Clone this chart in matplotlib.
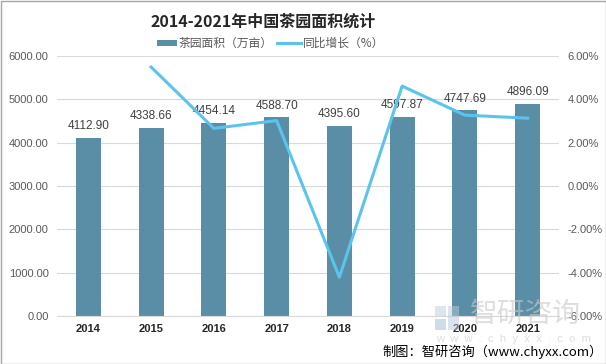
import matplotlib
matplotlib.use("Agg")
import matplotlib.pyplot as plt
from matplotlib.patches import Rectangle

plt.rcParams['font.family'] = ['Liberation Sans', 'Noto Sans CJK SC', 'DejaVu Sans']

years = ['2014', '2015', '2016', '2017', '2018', '2019', '2020', '2021']
area = [4112.90, 4338.66, 4454.14, 4588.70, 4395.60, 4597.87, 4747.69, 4896.09]
growth_years = ['2015', '2016', '2017', '2018', '2019', '2020', '2021']
growth = [5.49, 2.66, 3.02, -4.21, 4.61, 3.27, 3.13]

bar_color = '#5A8EA6'
line_color = '#5BC4EC'
tick_color = '#595959'

fig = plt.figure(figsize=(6.06, 3.64), dpi=100)
fig.patch.set_facecolor('white')

# watermark (drawn behind the axes)
fig.text(470/606, 1-314/364, '智研咨询', ha='left', va='center', fontsize=20,
         color='#C8C8C8', alpha=0.6, family=['Noto Sans CJK SC', 'DejaVu Sans'], zorder=0)
fig.text(436/606, 1-339/364, 'w  w  w  .  c  h  y  x  x  .  c  o  m', ha='left', va='center',
         fontsize=8, color='#C8C8C8', alpha=0.6, zorder=0)
fig.patches.append(Rectangle((435/606, 1-330/364), 11/606, 11/364, transform=fig.transFigure,
                             facecolor='#AFC4D6', edgecolor='none', alpha=0.6, zorder=0))
fig.patches.append(Rectangle((435/606, 1-317/364), 11/606, 11/364, transform=fig.transFigure,
                             facecolor='#C9D6E2', edgecolor='none', alpha=0.6, zorder=0))
fig.patches.append(Rectangle((448/606, 1-330/364), 11/606, 24/364, transform=fig.transFigure,
                             facecolor='#B8CADA', edgecolor='none', alpha=0.5, zorder=0))

ax = fig.add_axes([57/606, 1-316/364, (559-57)/606, (316-56)/364])
ax.patch.set_alpha(0)
x = list(range(len(years)))
ax.bar(x, area, width=0.4, color=bar_color, zorder=2)
for xi, v in zip(x, area):
    ax.text(xi, v + 130, f'{v:.2f}', ha='center', va='bottom', fontsize=8.5, color='#404040')
ax.set_xlim(-0.5, len(years) - 0.5)
ax.set_ylim(0, 6000)
ax.set_yticks([0, 1000, 2000, 3000, 4000, 5000, 6000])
ax.set_yticklabels([f'{t:.2f}' for t in ax.get_yticks()], fontsize=8, color=tick_color)
ax.set_xticks(x)
ax.set_xticklabels(years, fontsize=8, fontweight='bold', color='#262626')
ax.grid(axis='y', color='#D9D9D9', linewidth=0.8, zorder=0)
for s in ax.spines.values():
    s.set_visible(False)
ax.spines['bottom'].set_visible(True)
ax.spines['bottom'].set_color('#D9D9D9')
ax.tick_params(axis='both', length=0, pad=6)

ax2 = ax.twinx()
gx = [years.index(y) for y in growth_years]
ax2.plot(gx, growth, color=line_color, linewidth=2.2, zorder=3)
ax2.set_ylim(-6, 6)
ax2.set_yticks([-6, -4, -2, 0, 2, 4, 6])
ax2.set_yticklabels([f'{t:.2f}%' for t in [-6, -4, -2, 0, 2, 4, 6]], fontsize=8, color=tick_color)
for s in ax2.spines.values():
    s.set_visible(False)
ax2.tick_params(axis='both', length=0, pad=6)

fig.text(0.435, 1-22/364, '2014-2021年中国茶园面积统计', ha='center', va='center',
         fontsize=11.5, fontweight='bold', color='#262626',
         family=['Noto Sans CJK SC', 'DejaVu Sans'])

# legend
fig.patches.append(Rectangle((157/606, 1-46/364), 20/606, 6/364, transform=fig.transFigure,
                             facecolor=bar_color, edgecolor='none'))
fig.text(179/606, 1-43/364, '茶园面积（万亩）', ha='left', va='center', fontsize=8.5,
         color=tick_color, family=['Noto Sans CJK SC', 'DejaVu Sans'])
fig.lines.append(plt.Line2D([277/606, 301/606], [1-43/364, 1-43/364], transform=fig.transFigure,
                            color=line_color, linewidth=2.2))
fig.text(303/606, 1-43/364, '同比增长（%）', ha='left', va='center', fontsize=8.5,
         color=tick_color, family=['Noto Sans CJK SC', 'DejaVu Sans'])

fig.text(603/606, 1-352/364, '制图：智研咨询（www.chyxx.com）', ha='right', va='center',
         fontsize=9.5, color='#000000', family=['Noto Sans CJK SC', 'DejaVu Sans'])

fig.patches.append(Rectangle((0.5/606, 0.5/364), 605/606, 363/364, transform=fig.transFigure,
                             facecolor='none', edgecolor='#A6A6A6', linewidth=1))

fig.savefig('out.png', dpi=100)
